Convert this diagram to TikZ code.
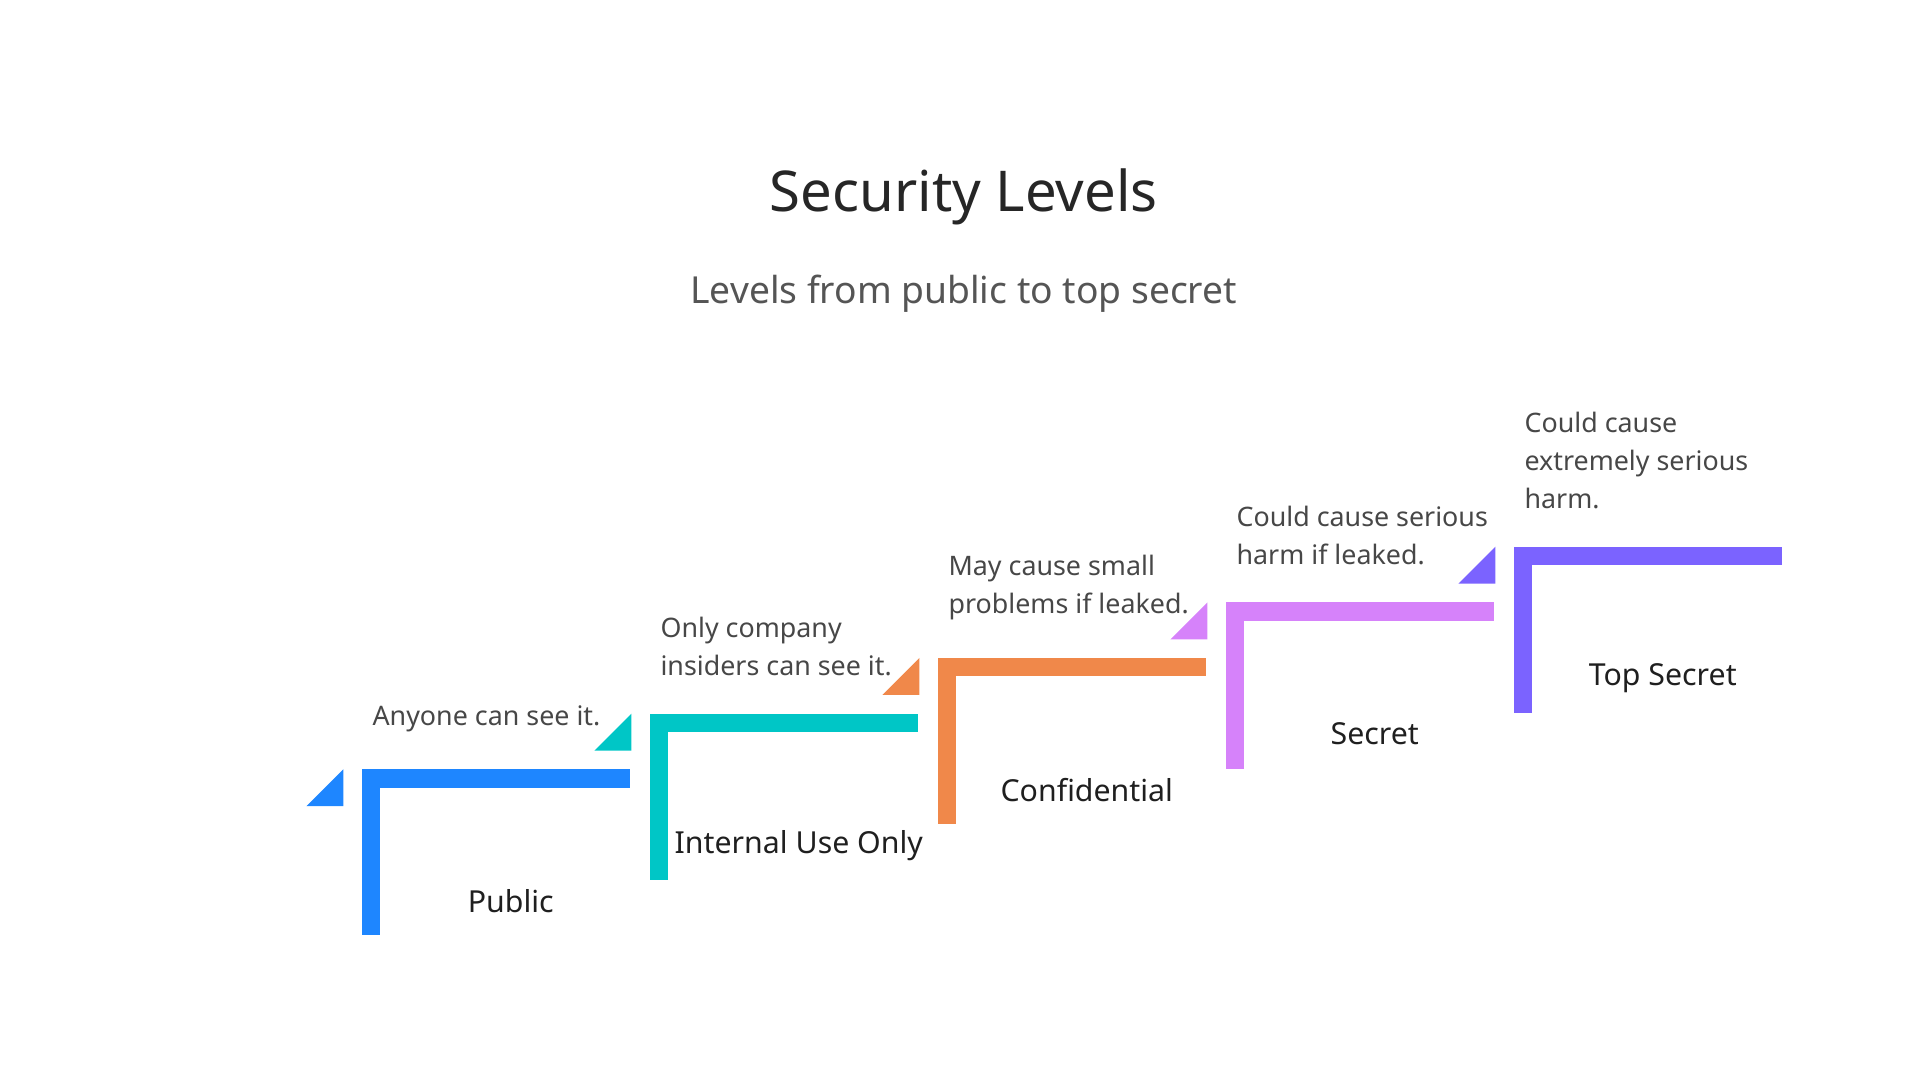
\documentclass[tikz,border=0pt]{standalone}
\usepackage{fontspec}
\setmainfont{Noto Sans}
\usepackage{tikz}
\usetikzlibrary{positioning}
\definecolor{lvlA}{HTML}{1E86FF}
\definecolor{lvlB}{HTML}{00C6C6}
\definecolor{lvlC}{HTML}{F0884A}
\definecolor{lvlD}{HTML}{D682FA}
\definecolor{lvlE}{HTML}{7B63FF}
\definecolor{subgray}{HTML}{555555}

\begin{document}
\begin{tikzpicture}[
  x=0.01cm, y=-0.01cm,
  title/.style={font=\fontsize{13}{15}\selectfont, text=black!85},
  sub/.style={font=\fontsize{8.6}{10}\selectfont, text=subgray},
  desc/.style={font=\fontsize{6.2}{8.8}\selectfont, text=black!72, align=left, anchor=south west, inner sep=0pt},
  lvl/.style={font=\fontsize{7}{8}\selectfont\bfseries, text=black!88},
]
  \useasboundingbox (0,0) rectangle (1560,877.5);

  \node[title] (ttl) at (783,160) {Security Levels};
  \node[sub] (subttl) at (783,239) {Levels from public to top secret};

  % Steps
  \foreach \i/\col/\name/\txt in {
      0/lvlA/Public/{Anyone can see it.},
      1/lvlB/Internal Use Only/{Only company\\insiders can see it.},
      2/lvlC/Confidential/{May cause small\\problems if leaked.},
      3/lvlD/Secret/{Could cause serious\\harm if leaked.},
      4/lvlE/Top Secret/{Could cause\\extremely serious\\harm.}} {
    \pgfmathsetmacro{\sx}{294+234*\i}
    \pgfmathsetmacro{\sy}{625-45.2*\i}
    \fill[\col] (\sx,\sy) rectangle (\sx+218,\sy+15);
    \fill[\col] (\sx,\sy) rectangle (\sx+15,\sy+135);
    \fill[\col] (\sx-45,\sy+30) -- (\sx-15,\sy+30) -- (\sx-15,\sy) -- cycle;
    \node[lvl] (lvl\i) at (\sx+121,\sy+107) {\name};
    \node[desc] (desc\i) at (\sx+8,\sy-30) {\txt};
  }
\end{tikzpicture}
\end{document}
